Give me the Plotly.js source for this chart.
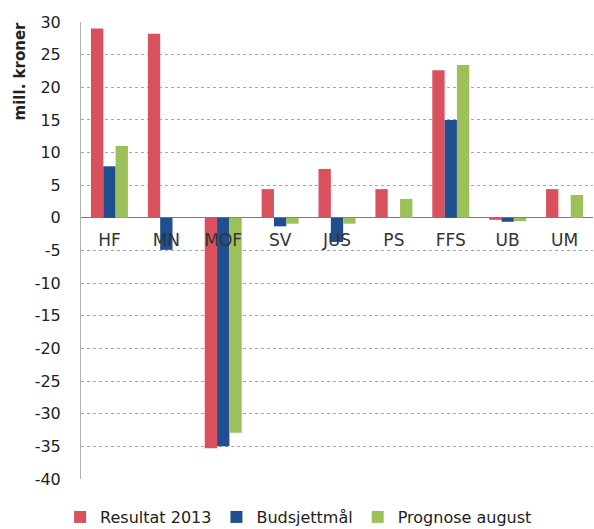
<!DOCTYPE html>
<html>
<head>
<meta charset="utf-8">
<script src="https://cdn.plot.ly/plotly-3.0.1.min.js"></script>
<style>html,body{margin:0;padding:0;background:#fff;}#chart{width:594px;height:529px;}</style>
</head>
<body>
<div id="chart"></div>
<script>
const categories = ["HF", "MN", "MOF", "SV", "JUS", "PS", "FFS", "UB", "UM"];
const resultat2013 = [29, 28.2, -35.3, 4.4, 7.5, 4.4, 22.6, -0.3, 4.4];
const budsjettmal = [7.9, -4.9, -35, -1.3, -3.7, 0, 15, -0.6, 0];
const prognoseAugust = [11, 0, -32.9, -0.9, -0.9, 2.9, 23.4, -0.5, 3.5];
const seriesNames = ["Resultat 2013", "Budsjettmål", "Prognose august"];
const yTicks = [-40, -35, -30, -25, -20, -15, -10, -5, 0, 5, 10, 15, 20, 25, 30];

const colors = ["#d9505f", "#1f4f8f", "#9dc15a"];
const font = "DejaVu Sans, Arial, sans-serif";

const data = [resultat2013, budsjettmal, prognoseAugust].map((vals, i) => ({
  type: "bar",
  x: categories,
  y: vals,
  name: seriesNames[i],
  marker: {color: colors[i]},
  hoverinfo: "skip"
}));

const layout = {
  width: 594,
  height: 529,
  margin: {l: 81, r: 1, t: 22, b: 50, autoexpand: false},
  paper_bgcolor: "#fff",
  plot_bgcolor: "#fff",
  barmode: "group",
  bargap: 0.35,
  bargroupgap: 0,
  font: {family: font, color: "#222"},
  showlegend: true,
  legend: {
    orientation: "h",
    x: 0.425, xanchor: "center",
    y: -0.046, yanchor: "top",
    font: {size: 16, color: "#222", family: font},
    itemwidth: 30,
    traceorder: "normal"
  },
  xaxis: {
    type: "category",
    anchor: "free",
    position: 40 / 70,
    showline: false,
    showgrid: false,
    ticks: "",
    tickfont: {size: 17, color: "#333", family: font},
    ticklabelstandoff: 10,
    fixedrange: true
  },
  yaxis: {
    range: [-40, 30],
    tickvals: yTicks,
    ticktext: yTicks.map(String),
    showgrid: true,
    gridcolor: "#a8a8a8",
    griddash: "dot",
    gridwidth: 1,
    zeroline: true,
    zerolinecolor: "#7a7a7a",
    zerolinewidth: 1,
    showline: true,
    linecolor: "#b0b0b0",
    linewidth: 1,
    ticks: "",
    tickfont: {size: 16, color: "#222", family: font},
    ticklabelstandoff: 16,
    fixedrange: true
  },
  annotations: [{
    text: "<b>mill. kroner</b>",
    xref: "paper", yref: "paper",
    x: -0.119, y: 0.892,
    xanchor: "center", yanchor: "middle",
    showarrow: false,
    textangle: -90,
    font: {size: 15, color: "#222", family: font}
  }]
};

Plotly.newPlot("chart", data, layout, {displayModeBar: false, staticPlot: true});
</script>
</body>
</html>
